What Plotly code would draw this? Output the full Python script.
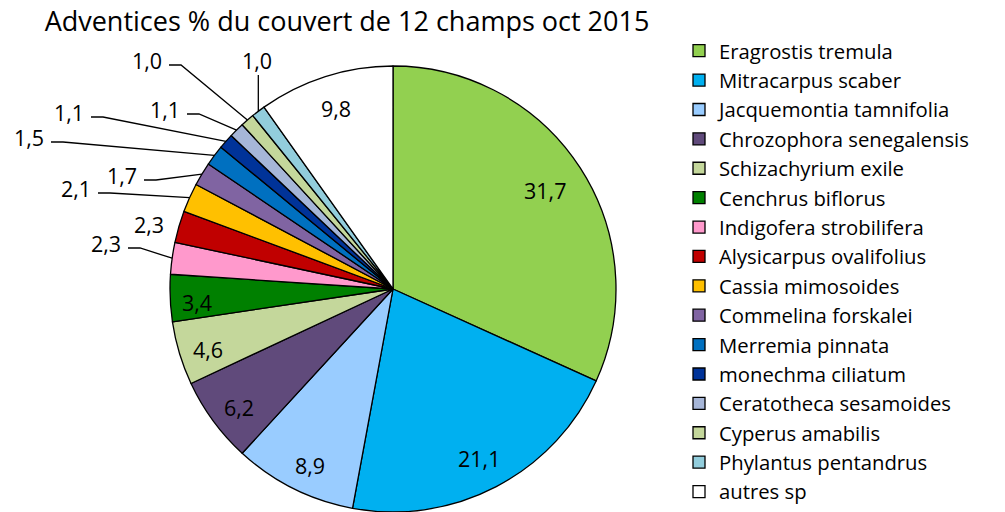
import math
import plotly.graph_objects as go

# ---------------- data ----------------
species = [
    "Eragrostis tremula", "Mitracarpus scaber", "Jacquemontia tamnifolia",
    "Chrozophora senegalensis", "Schizachyrium exile", "Cenchrus biflorus",
    "Indigofera strobilifera", "Alysicarpus ovalifolius", "Cassia mimosoides",
    "Commelina forskalei", "Merremia pinnata", "monechma ciliatum",
    "Ceratotheca sesamoides", "Cyperus amabilis", "Phylantus pentandrus",
    "autres sp",
]
cover_pct = [31.7, 21.1, 8.9, 6.2, 4.6, 3.4, 2.3, 2.3, 2.1, 1.7, 1.5, 1.1, 1.1, 1.0, 1.0, 9.8]
title_text = "Adventices % du couvert de 12 champs oct 2015"

# ---------------- style / layout ----------------
colors = [
    "#92D050", "#00B0F0", "#99CCFF", "#604A7B", "#C4D79B", "#008000",
    "#FF99CC", "#C00000", "#FFC000", "#8064A2", "#0070C0", "#003399",
    "#A6B6D8", "#C4D79B", "#92CDDC", "#FFFFFF",
]
W, H = 1005, 512
CX, CY, R = 393, 289, 223     # pie centre / radius in pixels
FONT = "Open Sans"

# label text centre (pixels) for each slice, and leader style
label_xy = [
    (545, 190), (479, 458), (310, 465), (239, 407), (208, 349), (197, 302),
    (106, 243), (149, 224), (76, 188), (122, 175), (29, 137), (69, 112),
    (165, 109), (147, 60), (257, 60), (336, 108),
]
leader = ["none", "none", "none", "none", "none", "none",
          "elbow", "none", "elbow", "elbow", "elbow", "elbow",
          "elbow", "elbow", "vertical", "none"]


def px(x):
    return x / W


def py(y):
    return 1 - y / H


fig = go.Figure()
fig.add_trace(go.Pie(
    labels=species,
    values=cover_pct,
    sort=False,
    direction="clockwise",
    rotation=0,
    marker=dict(colors=colors, line=dict(color="black", width=1.3)),
    textinfo="none",
    hoverinfo="label+value",
    domain=dict(x=[px(CX - R), px(CX + R)], y=[max(0, py(CY + R)), py(CY - R)]),
))

total = sum(cover_pct)
annotations = []
shapes = []
cum = 0.0
for v, (lx, ly), kind in zip(cover_pct, label_xy, leader):
    mid = (cum + v / 2) / total * 2 * math.pi
    cum += v
    ex = CX + R * math.sin(mid)
    ey = CY - R * math.cos(mid)
    annotations.append(dict(
        x=px(lx), y=py(ly), xref="paper", yref="paper",
        text=f"{v:.1f}".replace(".", ","), showarrow=False,
        xanchor="center", yanchor="middle",
        font=dict(family=FONT, size=21.5, color="black"),
    ))
    if kind == "elbow":
        sx, sy = lx + 22, ly + 5
        kx = sx + 12
        path = (f"M {px(sx)} {py(sy)} L {px(kx)} {py(sy)} "
                f"L {px(ex)} {py(ey)}")
        shapes.append(dict(type="path", path=path, xref="paper", yref="paper",
                           line=dict(color="black", width=1.3)))
    elif kind == "vertical":
        path = f"M {px(ex)} {py(ly + 15)} L {px(ex)} {py(ey)}"
        shapes.append(dict(type="path", path=path, xref="paper", yref="paper",
                           line=dict(color="black", width=1.3)))

fig.update_layout(
    width=W, height=H,
    margin=dict(l=0, r=0, t=0, b=0),
    paper_bgcolor="white", plot_bgcolor="white",
    title=dict(text=title_text, x=px(347), xanchor="center",
               y=1, yanchor="top", pad=dict(t=12),
               font=dict(family=FONT, size=27, color="black")),
    legend=dict(x=px(679), xanchor="left", y=py(39), yanchor="top",
                font=dict(family=FONT, size=20.3, color="black"),
                itemwidth=30, traceorder="normal",
                bgcolor="rgba(0,0,0,0)"),
    annotations=annotations,
    shapes=shapes,
    showlegend=True,
)

fig.write_html(
    "out.html",
    config={"displayModeBar": False},
    post_script="document.body.style.margin='0';document.body.style.overflow='hidden';",
)
